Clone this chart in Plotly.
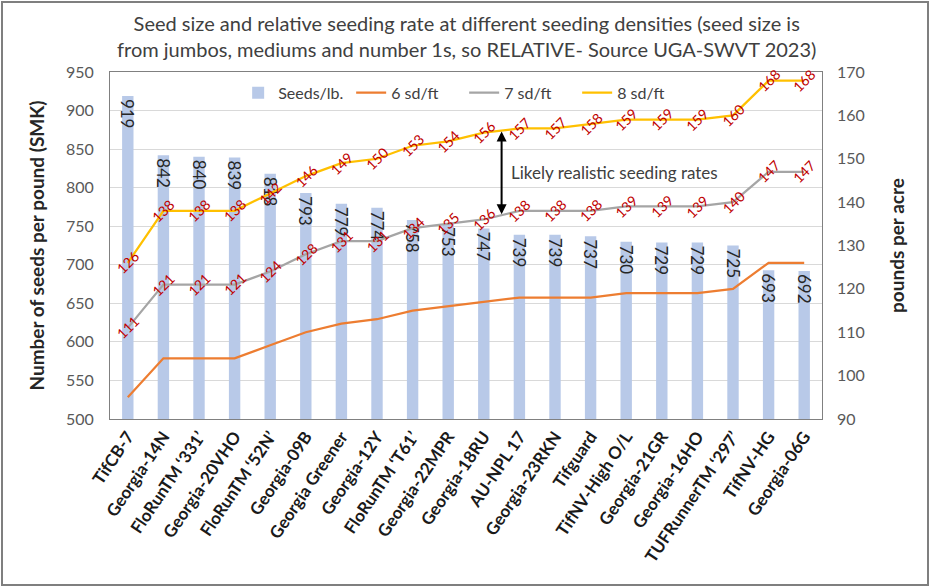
import plotly.graph_objects as go

varieties = ["TifCB-7", "Georgia-14N", "FloRunTM ‘331’", "Georgia-20VHO", "FloRunTM ‘52N’",
             "Georgia-09B", "Georgia Greener", "Georgia-12Y", "FloRunTM ‘T61’", "Georgia-22MPR",
             "Georgia-18RU", "AU-NPL 17", "Georgia-23RKN", "Tifguard", "TifNV-High O/L",
             "Georgia-21GR", "Georgia-16HO", "TUFRunnerTM ‘297’", "TifNV-HG", "Georgia-06G"]
seeds_per_lb = [919, 842, 840, 839, 818, 793, 779, 774, 758, 753, 747, 739, 739, 737, 730, 729, 729, 725, 693, 692]
rate_6 = [95, 104, 104, 104, 107, 110, 112, 113, 115, 116, 117, 118, 118, 118, 119, 119, 119, 120, 126, 126]
rate_7 = [111, 121, 121, 121, 124, 128, 131, 131, 134, 135, 136, 138, 138, 138, 139, 139, 139, 140, 147, 147]
rate_8 = [126, 138, 138, 138, 142, 146, 149, 150, 153, 154, 156, 157, 157, 158, 159, 159, 159, 160, 168, 168]

FONT = "Lato"
W, H = 930, 587
ML, MR, MT, MB = 110, 108, 72, 168
PW, PH = W - ML - MR, H - MT - MB

fig = go.Figure()
fig.add_trace(go.Bar(
    x=varieties, y=seeds_per_lb, name="Seeds/lb.", width=0.32,
    marker=dict(color="#b8c9e8", line=dict(width=0)),
    texttemplate="%{y}", textposition="inside", insidetextanchor="end",
    textangle=90, constraintext="none",
    textfont=dict(family=FONT, size=17, color="#262626"),
))
fig.add_trace(go.Scatter(x=varieties, y=rate_6, name="6 sd/ft", yaxis="y2", mode="lines",
                         line=dict(color="#ed7d31", width=2.25)))
fig.add_trace(go.Scatter(x=varieties, y=rate_7, name="7 sd/ft", yaxis="y2", mode="lines",
                         line=dict(color="#a5a5a5", width=2.25)))
fig.add_trace(go.Scatter(x=varieties, y=rate_8, name="8 sd/ft", yaxis="y2", mode="lines",
                         line=dict(color="#ffc000", width=2.25)))

annotations = []
for series in (rate_7, rate_8):
    for name, v in zip(varieties, series):
        annotations.append(dict(x=name, y=v, xref="x", yref="y2", text=str(v), showarrow=False,
                                textangle=-45, font=dict(family=FONT, size=14, color="#c00000"),
                                xanchor="center", yanchor="middle"))

# double arrow for realistic seeding range
annotations.append(dict(x=10.5, y=137.2, xref="x", yref="y2", ax=10.5, ay=156.6,
                        axref="x", ayref="y2", text="", showarrow=True,
                        arrowhead=2, startarrowhead=2, arrowside="end+start",
                        arrowwidth=2, arrowsize=1, startarrowsize=1, arrowcolor="#000000"))
annotations.append(dict(x=10.72, y=146.8, xref="x", yref="y2", text="Likely realistic seeding rates",
                        showarrow=False, xanchor="left", yanchor="middle",
                        font=dict(family=FONT, size=17, color="#404040")))

# chart title
annotations.append(dict(x=0.5, y=1 + (MT - 36) / PH, xref="paper", yref="paper", showarrow=False,
                        xanchor="center", yanchor="middle",
                        text="Seed size and relative seeding rate at different seeding densities (seed size is<br>"
                             "from jumbos, mediums and number 1s, so RELATIVE- Source UGA-SWVT 2023)",
                        font=dict(family=FONT, size=20, color="#404040")))

fig.update_layout(
    width=W, height=H,
    margin=dict(l=ML, r=MR, t=MT, b=MB),
    paper_bgcolor="white", plot_bgcolor="white",
    font=dict(family=FONT, color="#404040"),
    bargap=0.6,
    showlegend=True,
    legend=dict(orientation="h", x=0.18, xanchor="left", y=0.94, yanchor="middle",
                bgcolor="rgba(0,0,0,0)", font=dict(family=FONT, size=16, color="#404040"),
                itemwidth=30, traceorder="normal", entrywidth=68, entrywidthmode="pixels"),
    xaxis=dict(type="category", tickangle=-56, showgrid=False,
               tickfont=dict(family=FONT, size=17, color="#1a1a1a", weight="bold"),
               showline=True, linecolor="#808080", linewidth=1, mirror=True, ticks=""),
    yaxis=dict(range=[500, 950], dtick=50, showgrid=True, gridcolor="#d9d9d9", gridwidth=1,
               tickfont=dict(family=FONT, size=16, color="#595959"), ticklabelstandoff=12,
               showline=True, linecolor="#808080", linewidth=1, mirror=True, zeroline=False,
               title=dict(text="<b>Number of seeds per pound (SMK)</b>", standoff=16,
                          font=dict(family=FONT, size=19, color="#262626"))),
    yaxis2=dict(range=[90, 170], dtick=10, overlaying="y", side="right", showgrid=False,
                tickfont=dict(family=FONT, size=16, color="#595959"), zeroline=False,
                ticklabelstandoff=14,
                title=dict(text="<b>pounds per acre</b>", standoff=26,
                           font=dict(family=FONT, size=19, color="#262626"))),
    annotations=annotations,
    shapes=[dict(type="rect", xref="paper", yref="paper",
                 x0=(2 - ML) / PW, x1=(W - 2 - ML) / PW,
                 y0=-(MB - 2) / PH, y1=1 + (MT - 2) / PH,
                 line=dict(color="#7f7f7f", width=2), layer="below")],
)

fig.write_html("out.html", config={"displayModeBar": False},
               post_script="document.body.style.margin='0px';document.body.style.overflow='hidden';")
